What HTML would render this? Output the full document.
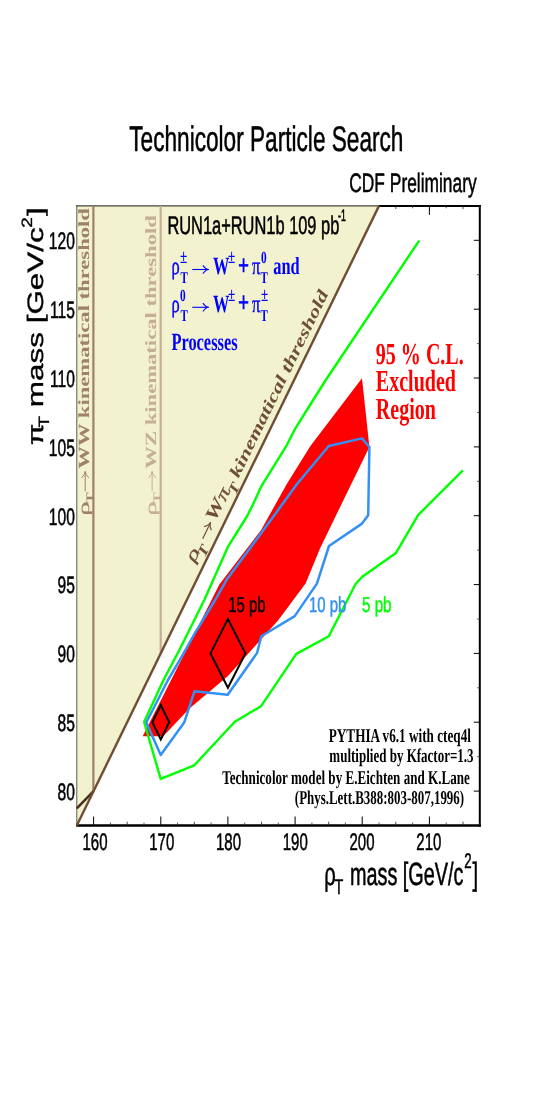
<!DOCTYPE html>
<html><head><meta charset="utf-8"><title>Technicolor Particle Search</title>
<style>html,body{margin:0;padding:0;background:#fff}svg{display:block;will-change:transform}
text{font-family:"Liberation Sans",sans-serif;text-rendering:geometricPrecision}
text.s{font-family:"Liberation Serif",serif}</style></head>
<body>
<svg width="553" height="1100" viewBox="0 0 553 1100">
<rect width="553" height="1100" fill="#fff"/>
<polygon points="76.8,205.9 379.0,205.9 76.8,825.5" fill="#f3f2ce"/>
<line x1="76.8" y1="205.3" x2="76.8" y2="826.5" stroke="#5a5a50" stroke-width="1"/>
<line x1="76.3" y1="205.9" x2="379.0" y2="205.9" stroke="#15150f" stroke-width="1"/>
<line x1="379.0" y1="205.9" x2="480.8" y2="205.9" stroke="#000" stroke-width="2"/>
<line x1="479.8" y1="204.9" x2="479.8" y2="826.7" stroke="#000" stroke-width="2"/>
<line x1="76.3" y1="825.5" x2="480.8" y2="825.5" stroke="#000" stroke-width="2.5"/>
<line x1="93.6" y1="825.5" x2="93.6" y2="816.5" stroke="#000" stroke-width="1"/>
<line x1="110.4" y1="825.5" x2="110.4" y2="822.5" stroke="#333" stroke-width="0.8"/>
<line x1="127.2" y1="825.5" x2="127.2" y2="821.7" stroke="#222" stroke-width="0.8"/>
<line x1="144.0" y1="825.5" x2="144.0" y2="822.5" stroke="#333" stroke-width="0.8"/>
<line x1="160.8" y1="825.5" x2="160.8" y2="816.5" stroke="#000" stroke-width="1"/>
<line x1="177.6" y1="825.5" x2="177.6" y2="822.5" stroke="#333" stroke-width="0.8"/>
<line x1="194.3" y1="825.5" x2="194.3" y2="821.7" stroke="#222" stroke-width="0.8"/>
<line x1="211.1" y1="825.5" x2="211.1" y2="822.5" stroke="#333" stroke-width="0.8"/>
<line x1="227.9" y1="825.5" x2="227.9" y2="816.5" stroke="#000" stroke-width="1"/>
<line x1="244.7" y1="825.5" x2="244.7" y2="822.5" stroke="#333" stroke-width="0.8"/>
<line x1="261.5" y1="825.5" x2="261.5" y2="821.7" stroke="#222" stroke-width="0.8"/>
<line x1="278.3" y1="825.5" x2="278.3" y2="822.5" stroke="#333" stroke-width="0.8"/>
<line x1="295.1" y1="825.5" x2="295.1" y2="816.5" stroke="#000" stroke-width="1"/>
<line x1="311.9" y1="825.5" x2="311.9" y2="822.5" stroke="#333" stroke-width="0.8"/>
<line x1="328.7" y1="825.5" x2="328.7" y2="821.7" stroke="#222" stroke-width="0.8"/>
<line x1="345.4" y1="825.5" x2="345.4" y2="822.5" stroke="#333" stroke-width="0.8"/>
<line x1="362.2" y1="825.5" x2="362.2" y2="816.5" stroke="#000" stroke-width="1"/>
<line x1="379.0" y1="825.5" x2="379.0" y2="822.5" stroke="#333" stroke-width="0.8"/>
<line x1="395.8" y1="825.5" x2="395.8" y2="821.7" stroke="#222" stroke-width="0.8"/>
<line x1="395.8" y1="205.9" x2="395.8" y2="209.1" stroke="#222" stroke-width="0.8"/>
<line x1="412.6" y1="825.5" x2="412.6" y2="822.5" stroke="#333" stroke-width="0.8"/>
<line x1="412.6" y1="205.9" x2="412.6" y2="208.3" stroke="#333" stroke-width="0.8"/>
<line x1="429.4" y1="825.5" x2="429.4" y2="816.5" stroke="#000" stroke-width="1"/>
<line x1="429.4" y1="205.9" x2="429.4" y2="214.9" stroke="#000" stroke-width="1"/>
<line x1="446.2" y1="825.5" x2="446.2" y2="822.5" stroke="#333" stroke-width="0.8"/>
<line x1="446.2" y1="205.9" x2="446.2" y2="208.3" stroke="#333" stroke-width="0.8"/>
<line x1="463.0" y1="825.5" x2="463.0" y2="821.7" stroke="#222" stroke-width="0.8"/>
<line x1="463.0" y1="205.9" x2="463.0" y2="209.1" stroke="#222" stroke-width="0.8"/>
<line x1="479.8" y1="825.5" x2="479.8" y2="822.5" stroke="#333" stroke-width="0.8"/>
<line x1="479.8" y1="205.9" x2="479.8" y2="208.3" stroke="#333" stroke-width="0.8"/>
<line x1="479.8" y1="791.1" x2="473.8" y2="791.1" stroke="#000" stroke-width="1"/>
<line x1="479.8" y1="756.7" x2="477.1" y2="756.7" stroke="#333" stroke-width="0.8"/>
<line x1="479.8" y1="722.2" x2="473.8" y2="722.2" stroke="#000" stroke-width="1"/>
<line x1="479.8" y1="687.8" x2="477.1" y2="687.8" stroke="#333" stroke-width="0.8"/>
<line x1="479.8" y1="653.4" x2="473.8" y2="653.4" stroke="#000" stroke-width="1"/>
<line x1="479.8" y1="619.0" x2="477.1" y2="619.0" stroke="#333" stroke-width="0.8"/>
<line x1="479.8" y1="584.6" x2="473.8" y2="584.6" stroke="#000" stroke-width="1"/>
<line x1="479.8" y1="550.1" x2="477.1" y2="550.1" stroke="#333" stroke-width="0.8"/>
<line x1="479.8" y1="515.7" x2="473.8" y2="515.7" stroke="#000" stroke-width="1"/>
<line x1="479.8" y1="481.3" x2="477.1" y2="481.3" stroke="#333" stroke-width="0.8"/>
<line x1="479.8" y1="446.9" x2="473.8" y2="446.9" stroke="#000" stroke-width="1"/>
<line x1="479.8" y1="412.4" x2="477.1" y2="412.4" stroke="#333" stroke-width="0.8"/>
<line x1="479.8" y1="378.0" x2="473.8" y2="378.0" stroke="#000" stroke-width="1"/>
<line x1="479.8" y1="343.6" x2="477.1" y2="343.6" stroke="#333" stroke-width="0.8"/>
<line x1="479.8" y1="309.2" x2="473.8" y2="309.2" stroke="#000" stroke-width="1"/>
<line x1="479.8" y1="274.7" x2="477.1" y2="274.7" stroke="#333" stroke-width="0.8"/>
<line x1="479.8" y1="240.3" x2="473.8" y2="240.3" stroke="#000" stroke-width="1"/>
<line x1="93.4" y1="205.9" x2="93.4" y2="791.1" stroke="#9f8068" stroke-width="2.2"/>
<line x1="160.7" y1="205.9" x2="160.7" y2="653.4" stroke="#c6ad95" stroke-width="2.2"/>
<line x1="76.8" y1="808.3" x2="93.6" y2="791.1" stroke="#4a2f20" stroke-width="2.6"/>
<line x1="76.8" y1="825.5" x2="379.0" y2="205.9" stroke="#6f4e36" stroke-width="2.4"/>
<polygon fill="#ff0000" points="142.7,736.2 219.5,584.3 261.1,530 286.8,484 310.4,446 362,378.2 369.4,447 343.5,500 320,548.5 305.6,583.6 278,620.5 228,676 190,708 163.2,736.2"/>
<polyline fill="none" stroke="#00ff00" stroke-width="2.4" stroke-linejoin="round" points="419.2,240.6 325.8,380 306.9,410 295.2,428.6 286.2,446.2 261.1,486.7 253.9,502.6 247.2,516 228.2,546.3 204.3,600 180,648.7 163.5,680 144.1,722 160.7,778.9 194.2,765.4 234.8,721.7 261.1,706.2 296.3,653.9 328.8,636.3 355.6,584 362.3,576.7 395.9,553.1 418.1,515.1 462.9,470.3"/>
<polygon fill="none" stroke="#3391f5" stroke-width="2.5" stroke-linejoin="round" points="146.3,722.5 168,680 180,659.6 195.4,632.4 215.2,600 227.1,578.9 246.7,552.8 273.8,516 296.6,484.5 328.8,446 362,438.4 369.4,447 368.2,515.2 362,523.6 329,546 316.9,583.6 294.7,616.1 261.3,636.2 257.1,652.9 227.7,694.7 194.6,691.2 184.2,722.5 160.7,755"/>
<polygon fill="none" stroke="#000" stroke-width="2.0" points="227.9,619.0 245.4,653.4 227.9,687.8 210.5,653.4"/>
<polygon fill="none" stroke="#000" stroke-width="2.0" points="160.8,705.0 169.2,722.2 160.8,739.5 152.4,722.2"/>
<text transform="translate(129.30,151.10) scale(1.0000,1.5660)" font-size="22.64" fill="#000" stroke="#000" stroke-width="0.35" vector-effect="non-scaling-stroke">Technicolor Particle Search</text>
<text transform="translate(349.30,192.10) scale(1.0000,1.5390)" font-size="17.36" fill="#000" stroke="#000" stroke-width="0.35" vector-effect="non-scaling-stroke">CDF Preliminary</text>
<text transform="translate(167.40,233.90) scale(1.0000,1.5490)" font-size="16.42" fill="#000" stroke="#000" stroke-width="0.35" vector-effect="non-scaling-stroke">RUN1a+RUN1b 109 pb</text>
<text transform="translate(338.00,220.90) scale(1.0000,1.9000)" font-size="8.8" fill="#000" stroke="#000" stroke-width="0.35" vector-effect="non-scaling-stroke">-1</text>
<text transform="translate(95.00,849.50) scale(1.0000,1.5900)" font-size="15" fill="#000" text-anchor="middle" stroke="#000" stroke-width="0.35" vector-effect="non-scaling-stroke">160</text>
<text transform="translate(161.76,849.50) scale(1.0000,1.5900)" font-size="15" fill="#000" text-anchor="middle" stroke="#000" stroke-width="0.35" vector-effect="non-scaling-stroke">170</text>
<text transform="translate(228.52,849.50) scale(1.0000,1.5900)" font-size="15" fill="#000" text-anchor="middle" stroke="#000" stroke-width="0.35" vector-effect="non-scaling-stroke">180</text>
<text transform="translate(295.28,849.50) scale(1.0000,1.5900)" font-size="15" fill="#000" text-anchor="middle" stroke="#000" stroke-width="0.35" vector-effect="non-scaling-stroke">190</text>
<text transform="translate(362.04,849.50) scale(1.0000,1.5900)" font-size="15" fill="#000" text-anchor="middle" stroke="#000" stroke-width="0.35" vector-effect="non-scaling-stroke">200</text>
<text transform="translate(428.80,849.50) scale(1.0000,1.5900)" font-size="15" fill="#000" text-anchor="middle" stroke="#000" stroke-width="0.35" vector-effect="non-scaling-stroke">210</text>
<text transform="translate(74.90,800.00) scale(1.0000,1.5290)" font-size="15.6" fill="#000" text-anchor="end" stroke="#000" stroke-width="0.35" vector-effect="non-scaling-stroke">80</text>
<text transform="translate(74.90,731.15) scale(1.0000,1.5290)" font-size="15.6" fill="#000" text-anchor="end" stroke="#000" stroke-width="0.35" vector-effect="non-scaling-stroke">85</text>
<text transform="translate(74.90,662.30) scale(1.0000,1.5290)" font-size="15.6" fill="#000" text-anchor="end" stroke="#000" stroke-width="0.35" vector-effect="non-scaling-stroke">90</text>
<text transform="translate(74.90,593.45) scale(1.0000,1.5290)" font-size="15.6" fill="#000" text-anchor="end" stroke="#000" stroke-width="0.35" vector-effect="non-scaling-stroke">95</text>
<text transform="translate(74.90,524.60) scale(1.0000,1.5290)" font-size="15.6" fill="#000" text-anchor="end" stroke="#000" stroke-width="0.35" vector-effect="non-scaling-stroke">100</text>
<text transform="translate(74.90,455.75) scale(1.0000,1.5290)" font-size="15.6" fill="#000" text-anchor="end" stroke="#000" stroke-width="0.35" vector-effect="non-scaling-stroke">105</text>
<text transform="translate(74.90,386.90) scale(1.0000,1.5290)" font-size="15.6" fill="#000" text-anchor="end" stroke="#000" stroke-width="0.35" vector-effect="non-scaling-stroke">110</text>
<text transform="translate(74.90,318.05) scale(1.0000,1.5290)" font-size="15.6" fill="#000" text-anchor="end" stroke="#000" stroke-width="0.35" vector-effect="non-scaling-stroke">115</text>
<text transform="translate(74.90,249.20) scale(1.0000,1.5290)" font-size="15.6" fill="#000" text-anchor="end" stroke="#000" stroke-width="0.35" vector-effect="non-scaling-stroke">120</text>
<text transform="translate(324.20,884.60) scale(1.0000,1.5900)" font-size="20.2" fill="#000" stroke="#000" stroke-width="0.35" vector-effect="non-scaling-stroke">ρ</text>
<text transform="translate(334.40,894.30) scale(1.0000,1.4700)" font-size="14.4" fill="#000" stroke="#000" stroke-width="0.35" vector-effect="non-scaling-stroke">T</text>
<text transform="translate(349.90,884.60) scale(1.0000,1.6180)" font-size="19.85" fill="#000" stroke="#000" stroke-width="0.35" vector-effect="non-scaling-stroke">mass [GeV/c</text>
<text transform="translate(464.20,867.60) scale(1.0000,1.5900)" font-size="13.3" fill="#000" stroke="#000" stroke-width="0.35" vector-effect="non-scaling-stroke">2</text>
<text transform="translate(472.60,884.60) scale(1.0000,1.5900)" font-size="20.2" fill="#000" stroke="#000" stroke-width="0.35" vector-effect="non-scaling-stroke">]</text>
<text transform="translate(42.60,445.30) rotate(-90) scale(1.4100,1.0000)" font-size="22.3" fill="#000" stroke="#000" stroke-width="0.35" vector-effect="non-scaling-stroke">π</text>
<text transform="translate(49.30,427.40) rotate(-90) scale(1.2600,1.0000)" font-size="14.9" fill="#000" stroke="#000" stroke-width="0.35" vector-effect="non-scaling-stroke">T</text>
<text transform="translate(42.80,407.20) rotate(-90) scale(1.4100,1.0000)" font-size="22.3" fill="#000" stroke="#000" stroke-width="0.35" vector-effect="non-scaling-stroke">mass [GeV/c</text>
<text transform="translate(32.10,227.80) rotate(-90) scale(1.2800,1.0000)" font-size="14.9" fill="#000" stroke="#000" stroke-width="0.35" vector-effect="non-scaling-stroke">2</text>
<text transform="translate(42.80,216.00) rotate(-90) scale(1.4100,1.0000)" font-size="22.3" fill="#000" stroke="#000" stroke-width="0.35" vector-effect="non-scaling-stroke">]</text>
<text transform="translate(228.20,611.80) scale(1.0000,1.4500)" font-size="14.9" fill="#000" stroke="#000" stroke-width="0.35" vector-effect="non-scaling-stroke">15 pb</text>
<text transform="translate(309.00,611.80) scale(1.0000,1.4500)" font-size="14.9" fill="#3391f5" stroke="#3391f5" stroke-width="0.35" vector-effect="non-scaling-stroke">10 pb</text>
<text transform="translate(362.00,611.80) scale(1.0000,1.4200)" font-size="15.2" fill="#00ff00" stroke="#00ff00" stroke-width="0.35" vector-effect="non-scaling-stroke">5 pb</text>
<text transform="translate(375.80,364.30) scale(1.0000,1.5230)" class="s" font-size="20.05" fill="#ff0000" font-weight="bold">95 % C.L.</text>
<text transform="translate(375.80,391.40) scale(1.0000,1.5230)" class="s" font-size="20.05" fill="#ff0000" font-weight="bold">Excluded</text>
<text transform="translate(375.80,419.00) scale(1.0000,1.5230)" class="s" font-size="20.05" fill="#ff0000" font-weight="bold">Region</text>
<text transform="translate(470.90,741.70) scale(1.0000,1.4818)" class="s" font-size="13.2" fill="#000" font-weight="bold" text-anchor="end">PYTHIA v6.1 with cteq4l</text>
<text transform="translate(473.60,762.20) scale(1.0000,1.5046)" class="s" font-size="13.0" fill="#000" font-weight="bold" text-anchor="end">multiplied by Kfactor=1.3</text>
<text transform="translate(469.90,783.60) scale(1.0000,1.4931)" class="s" font-size="13.1" fill="#000" font-weight="bold" text-anchor="end">Technicolor model by E.Eichten and K.Lane</text>
<text transform="translate(464.10,803.90) scale(1.0000,1.5104)" class="s" font-size="12.95" fill="#000" font-weight="bold" text-anchor="end">(Phys.Lett.B388:803-807,1996)</text>
<text transform="translate(171.60,274.20) scale(1.0000,1.5030)" class="s" font-size="16.4" fill="#0000ff" stroke="#0000ff" stroke-width="0.3">ρ</text>
<text transform="translate(180.00,263.20) scale(1.0000,1.5030)" class="s" font-size="13.2" fill="#0000ff" font-weight="bold">±</text>
<text transform="translate(180.50,283.00) scale(1.0000,1.5030)" class="s" font-size="11" fill="#0000ff" font-weight="bold">T</text>
<path d="M192.3,269.5L208.5,269.5" stroke="#0000ff" stroke-width="1.1" fill="none"/><path d="M202.9,273.7Q206.0,269.5 208.5,269.5Q206.0,269.5 202.9,265.3" stroke="#0000ff" stroke-width="1.1" fill="none" stroke-linejoin="round"/>
<text transform="translate(212.90,274.20) scale(1.0000,1.5030)" class="s" font-size="16.4" fill="#0000ff" font-weight="bold">W</text>
<text transform="translate(227.90,263.20) scale(1.0000,1.5030)" class="s" font-size="13.2" fill="#0000ff" font-weight="bold">±</text>
<text transform="translate(237.90,274.50) scale(1.0000,1.5030)" class="s" font-size="19.5" fill="#0000ff" font-weight="bold" stroke="#0000ff" stroke-width="0.3">+</text>
<text transform="translate(252.00,274.20) scale(1.0000,1.5030)" class="s" font-size="16.4" fill="#0000ff" stroke="#0000ff" stroke-width="0.3">π</text>
<text transform="translate(261.00,263.20) scale(1.0000,1.5030)" class="s" font-size="11.3" fill="#0000ff" font-weight="bold">0</text>
<text transform="translate(260.60,283.00) scale(1.0000,1.5030)" class="s" font-size="11" fill="#0000ff" font-weight="bold">T</text>
<text transform="translate(273.20,274.20) scale(1.0000,1.5030)" class="s" font-size="16.4" fill="#0000ff" font-weight="bold">and</text>
<text transform="translate(171.60,312.00) scale(1.0000,1.5030)" class="s" font-size="16.4" fill="#0000ff" stroke="#0000ff" stroke-width="0.3">ρ</text>
<text transform="translate(180.00,301.00) scale(1.0000,1.5030)" class="s" font-size="11.3" fill="#0000ff" font-weight="bold">0</text>
<text transform="translate(180.50,320.80) scale(1.0000,1.5030)" class="s" font-size="11" fill="#0000ff" font-weight="bold">T</text>
<path d="M192.3,307.3L208.5,307.3" stroke="#0000ff" stroke-width="1.1" fill="none"/><path d="M202.9,311.5Q206.0,307.3 208.5,307.3Q206.0,307.3 202.9,303.1" stroke="#0000ff" stroke-width="1.1" fill="none" stroke-linejoin="round"/>
<text transform="translate(212.90,312.00) scale(1.0000,1.5030)" class="s" font-size="16.4" fill="#0000ff" font-weight="bold">W</text>
<text transform="translate(227.90,301.00) scale(1.0000,1.5030)" class="s" font-size="13.2" fill="#0000ff" font-weight="bold">±</text>
<text transform="translate(237.90,312.30) scale(1.0000,1.5030)" class="s" font-size="19.5" fill="#0000ff" font-weight="bold" stroke="#0000ff" stroke-width="0.3">+</text>
<text transform="translate(252.00,312.00) scale(1.0000,1.5030)" class="s" font-size="16.4" fill="#0000ff" stroke="#0000ff" stroke-width="0.3">π</text>
<text transform="translate(261.00,301.00) scale(1.0000,1.5030)" class="s" font-size="13.2" fill="#0000ff" font-weight="bold">±</text>
<text transform="translate(260.60,320.80) scale(1.0000,1.5030)" class="s" font-size="11" fill="#0000ff" font-weight="bold">T</text>
<text transform="translate(171.40,349.50) scale(1.0000,1.5030)" class="s" font-size="16.4" fill="#0000ff" font-weight="bold">Processes</text>
<text transform="translate(88.80,515.80) rotate(-90) scale(1.8500,1.0000)" class="s" font-size="15.6" fill="#9f8068" stroke="#9f8068" stroke-width="0.15">ρ</text>
<text transform="translate(93.60,503.60) rotate(-90) scale(1.4510,1.0000)" class="s" font-size="11.5" fill="#9f8068" font-weight="bold">T</text>
<path d="M85.2,491.4L85.2,471.5" stroke="#9f8068" stroke-width="1.0" fill="none"/><path d="M88.8,477.8Q85.2,474.3 85.2,471.5Q85.2,474.3 81.6,477.8" stroke="#9f8068" stroke-width="1.0" fill="none" stroke-linejoin="round"/>
<text transform="translate(88.80,468.70) rotate(-90) scale(1.4510,1.0000)" class="s" font-size="15.6" fill="#9f8068" font-weight="bold">WW kinematical threshold</text>
<text transform="translate(155.70,515.80) rotate(-90) scale(1.8500,1.0000)" class="s" font-size="15.6" fill="#c6ad95" stroke="#c6ad95" stroke-width="0.15">ρ</text>
<text transform="translate(160.50,503.60) rotate(-90) scale(1.4510,1.0000)" class="s" font-size="11.5" fill="#c6ad95" font-weight="bold">T</text>
<path d="M152.1,491.4L152.1,471.5" stroke="#c6ad95" stroke-width="1.0" fill="none"/><path d="M155.7,477.8Q152.1,474.3 152.1,471.5Q152.1,474.3 148.5,477.8" stroke="#c6ad95" stroke-width="1.0" fill="none" stroke-linejoin="round"/>
<text transform="translate(155.70,468.70) rotate(-90) scale(1.4510,1.0000)" class="s" font-size="15.6" fill="#c6ad95" font-weight="bold">WZ kinematical threshold</text>
<text transform="translate(194.45,562.90) rotate(-64.00) scale(1.6,1)" class="s" font-size="17.2" fill="#6f4e36" font-style="italic" stroke="#6f4e36" stroke-width="0.25">ρ</text>
<text transform="translate(204.78,558.14) rotate(-64.00) scale(1.372,1)" class="s" font-size="14" fill="#6f4e36" font-style="italic" font-weight="bold">T</text>
<path d="M202.7,538.8L210.6,522.6" stroke="#6f4e36" stroke-width="1.2" fill="none"/><path d="M211.3,530.2Q209.3,525.2 210.6,522.6Q209.3,525.2 204.1,526.7" stroke="#6f4e36" stroke-width="1.2" fill="none" stroke-linejoin="round"/>
<text transform="translate(214.89,522.13) rotate(-64.00) scale(1.426,1)" class="s" font-size="18" fill="#6f4e36" font-style="italic" font-weight="bold">W</text>
<text transform="translate(225.33,502.08) rotate(-64.00) scale(1.372,1)" class="s" font-size="18" fill="#6f4e36" font-style="italic" stroke="#6f4e36" stroke-width="0.3">π</text>
<text transform="translate(235.38,496.08) rotate(-64.00) scale(1.372,1)" class="s" font-size="14" fill="#6f4e36" font-style="italic" font-weight="bold">T</text>
<text transform="translate(238.61,478.51) rotate(-64.00) scale(1.4,1)" class="s" font-size="16.4" fill="#6f4e36" font-style="italic" font-weight="bold">kinematical threshold</text>
</svg>
</body></html>
